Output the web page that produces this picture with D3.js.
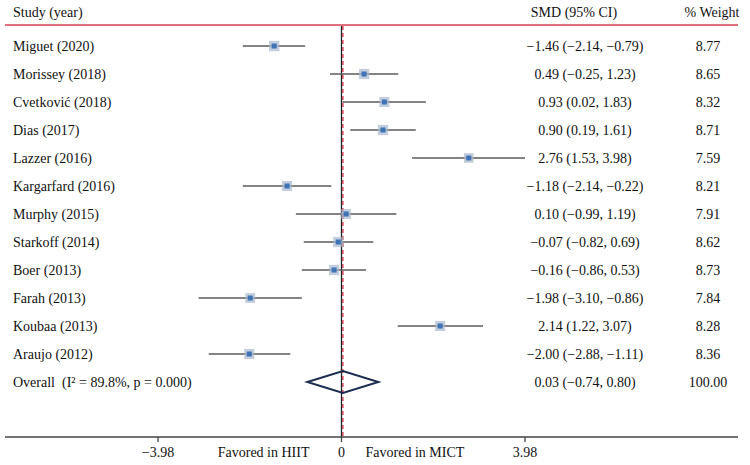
<!DOCTYPE html>
<html>
<head>
<meta charset="utf-8">
<script src="https://cdn.jsdelivr.net/npm/d3@7"></script>
<style>
  body { margin: 0; background: #fff; }
  text { font-family: "Liberation Serif", "Times New Roman", serif; fill: #111; white-space: pre; }
</style>
</head>
<body>
<div id="chart"></div>
<script>
// study labels, effect sizes, CIs and weights
const studies = ["Miguet (2020)", "Morissey (2018)", "Cvetković (2018)", "Dias (2017)", "Lazzer (2016)",
  "Kargarfard (2016)", "Murphy (2015)", "Starkoff (2014)", "Boer (2013)", "Farah (2013)",
  "Koubaa (2013)", "Araujo (2012)"];
const smd = [-1.46, 0.49, 0.93, 0.90, 2.76, -1.18, 0.10, -0.07, -0.16, -1.98, 2.14, -2.00];
const lower = [-2.14, -0.25, 0.02, 0.19, 1.53, -2.14, -0.99, -0.82, -0.86, -3.10, 1.22, -2.88];
const upper = [-0.79, 1.23, 1.83, 1.61, 3.98, -0.22, 1.19, 0.69, 0.53, -0.86, 3.07, -1.11];
const weight = [8.77, 8.65, 8.32, 8.71, 7.59, 8.21, 7.91, 8.62, 8.73, 7.84, 8.28, 8.36];

const overallLabel = "Overall  (I² = 89.8%, p = 0.000)";
const overall = {est: 0.03, lo: -0.74, hi: 0.80, weight: 100.00};

const tickValues = [-3.98, 0, 3.98];
const sideLabels = ["Favored in HIIT", "Favored in MICT"];

const W = 750, H = 465;
const fmt = v => d3.format(".2f")(v).replace("-", "−");
const ciText = (e, l, u) => fmt(e) + " (" + fmt(l) + ", " + fmt(u) + ")";

let svg = d3.select("#chart").append("svg")
  .attr("width", W)
  .attr("height", H);

let rows = studies.concat([overallLabel]);

let x = d3.scaleLinear().domain([-3.98, 3.98]).range([158, 525]);
let y = d3.scalePoint().domain(rows).range([46, 382]);

const axisY = 437;

// header
svg.append("text").attr("x", 13).attr("y", 17).style("font-size", "14px").text("Study (year)");
svg.append("text").attr("x", 574).attr("y", 17).attr("text-anchor", "middle").style("font-size", "14px").text("SMD (95% CI)");
svg.append("text").attr("x", 712).attr("y", 17).attr("text-anchor", "middle").style("font-size", "14px").text("% Weight");
svg.append("line")
  .attr("x1", 5).attr("x2", 738).attr("y1", 25).attr("y2", 25)
  .attr("stroke", "#e0707f").attr("stroke-width", 2);

// null line + overall line
svg.append("line")
  .attr("x1", x(0)).attr("x2", x(0)).attr("y1", 26).attr("y2", axisY)
  .attr("stroke", "#222").attr("stroke-width", 1.3);
svg.append("line")
  .attr("x1", x(overall.est)).attr("x2", x(overall.est)).attr("y1", 26).attr("y2", axisY)
  .attr("stroke", "#d0304a").attr("stroke-width", 1.3).attr("stroke-dasharray", "4,3");

// CI lines
let g = svg.append("g");
g.selectAll("line.ci")
  .data(studies)
  .enter().append("line")
  .attr("class", "ci")
  .attr("x1", (d, i) => x(lower[i]))
  .attr("x2", (d, i) => x(upper[i]))
  .attr("y1", d => y(d))
  .attr("y2", d => y(d))
  .attr("stroke", "#5a5a5a").attr("stroke-width", 1.3);

// weight boxes
g.selectAll("rect.box")
  .data(studies)
  .enter().append("rect")
  .attr("class", "box")
  .attr("x", (d, i) => x(smd[i]) - 1.75 * Math.sqrt(weight[i]))
  .attr("y", (d, i) => y(d) - 1.75 * Math.sqrt(weight[i]))
  .attr("width", (d, i) => 3.5 * Math.sqrt(weight[i]))
  .attr("height", (d, i) => 3.5 * Math.sqrt(weight[i]))
  .attr("fill", "#a9b8cc").attr("opacity", 0.7);

// point estimates
g.selectAll("rect.pt")
  .data(studies)
  .enter().append("rect")
  .attr("class", "pt")
  .attr("x", (d, i) => x(smd[i]) - 2.5)
  .attr("y", d => y(d) - 2.5)
  .attr("width", 5).attr("height", 5)
  .attr("fill", "#3f73b8");

// overall diamond
let oy = y(overallLabel);
svg.append("path")
  .attr("d", "M" + x(overall.lo) + "," + oy +
    "L" + x(overall.est) + "," + (oy - 11) +
    "L" + x(overall.hi) + "," + oy +
    "L" + x(overall.est) + "," + (oy + 11) + "Z")
  .attr("fill", "none").attr("stroke", "#1e2c52").attr("stroke-width", 2);

// row labels and numbers
let tx = svg.append("g").style("font-size", "14px");
tx.selectAll("text.lab")
  .data(rows)
  .enter().append("text")
  .attr("class", "lab")
  .attr("x", 13).attr("y", d => y(d)).attr("dy", "0.35em")
  .text(d => d);

let estText = studies.map((s, i) => ciText(smd[i], lower[i], upper[i]))
  .concat([ciText(overall.est, overall.lo, overall.hi)]);
let wText = weight.map(w => d3.format(".2f")(w)).concat([d3.format(".2f")(overall.weight)]);

tx.selectAll("text.est")
  .data(rows)
  .enter().append("text")
  .attr("class", "est")
  .attr("x", 585).attr("y", d => y(d)).attr("dy", "0.35em")
  .attr("text-anchor", "middle")
  .text((d, i) => estText[i]);

tx.selectAll("text.w")
  .data(rows)
  .enter().append("text")
  .attr("class", "w")
  .attr("x", 708).attr("y", d => y(d)).attr("dy", "0.35em")
  .attr("text-anchor", "middle")
  .text((d, i) => wText[i]);

// axis
svg.append("line")
  .attr("x1", 5).attr("x2", 738).attr("y1", axisY).attr("y2", axisY)
  .attr("stroke", "#444").attr("stroke-width", 1.5);
let ax = svg.append("g").style("font-size", "14px");
ax.selectAll("line.tick")
  .data(tickValues)
  .enter().append("line")
  .attr("x1", d => x(d)).attr("x2", d => x(d))
  .attr("y1", axisY).attr("y2", axisY + 5)
  .attr("stroke", "#444").attr("stroke-width", 1.3);
ax.selectAll("text.tick")
  .data(tickValues)
  .enter().append("text")
  .attr("x", d => x(d)).attr("y", axisY + 20)
  .attr("text-anchor", "middle")
  .text(d => d === 0 ? "0" : fmt(d));
ax.append("text").attr("x", x(0) - 32).attr("y", axisY + 20).attr("text-anchor", "end").text(sideLabels[0]);
ax.append("text").attr("x", x(0) + 24).attr("y", axisY + 20).attr("text-anchor", "start").text(sideLabels[1]);
</script>
</body>
</html>
